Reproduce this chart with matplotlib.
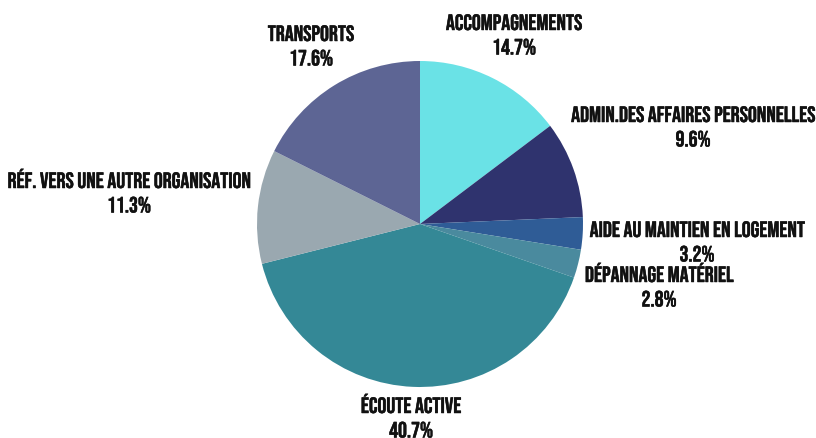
import matplotlib
matplotlib.use('Agg')
import matplotlib.pyplot as plt
import matplotlib.patheffects as pe

# data
labels = ['ACCOMPAGNEMENTS', 'ADMIN.DES AFFAIRES PERSONNELLES', 'AIDE AU MAINTIEN EN LOGEMENT',
          'DÉPANNAGE MATÉRIEL', 'ÉCOUTE ACTIVE', 'RÉF. VERS UNE AUTRE ORGANISATION', 'TRANSPORTS']
values = [14.7, 9.6, 3.2, 2.8, 40.7, 11.3, 17.6]
colors = ['#6AE2E6', '#2F336E', '#2F5C96', '#4A8A9E', '#348896', '#9AA8B0', '#5D6594']
# label anchor in pixels: centre x, baseline of first line (from top)
label_pos = [(514, 30), (693, 122), (697, 237), (659, 282), (411, 413), (129, 188), (311, 41)]

W, H = 816, 438
fig = plt.figure(figsize=(W / 100, H / 100), dpi=100)
ax = fig.add_axes([0, 0, 1, 1])

ax.pie(values, colors=colors, startangle=90, counterclock=False,
       center=(420, H - 224), radius=163, frame=True,
       wedgeprops={'linewidth': 0})
ax.set_xlim(0, W)
ax.set_ylim(0, H)
ax.set_aspect('equal')
ax.axis('off')

style = dict(ha='center', va='baseline', fontsize=16, color='#111111',
             fontfamily=['Bebas Neue', 'DejaVu Sans'],
             path_effects=[pe.withStroke(linewidth=0.35, foreground='#111111')])
for lab, v, (x, y) in zip(labels, values, label_pos):
    ax.text(x, H - y, lab, **style)
    ax.text(x, H - y - 24.5, f'{v}%', **style)

fig.savefig('out.png', dpi=100)
